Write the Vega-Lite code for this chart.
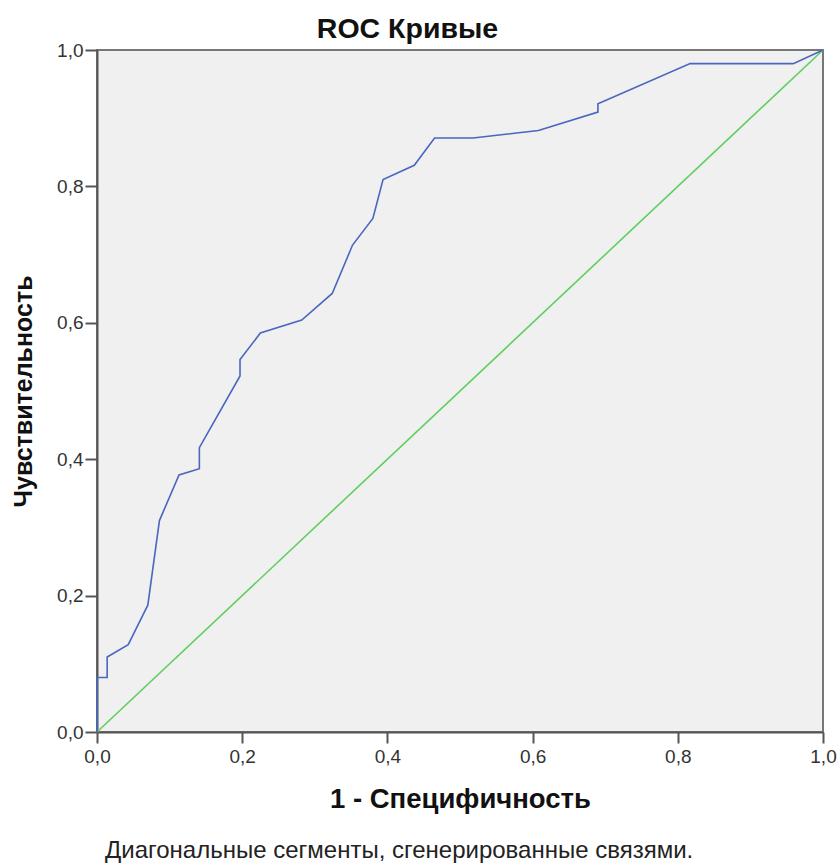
{
  "$schema": "https://vega.github.io/schema/vega-lite/v6.json",
  "autosize": {"type": "none"},
  "width": 726,
  "height": 682,
  "padding": {"left": 97, "top": 50, "right": 15, "bottom": 134},
  "background": "white",
  "config": {
    "view": {"fill": "#f0f0f0", "stroke": "#777777", "strokeWidth": 2},
    "font": "Liberation Sans"
  },
  "title": {
    "text": "Диагональные сегменты, сгенерированные связями.",
    "orient": "bottom",
    "anchor": "start",
    "frame": "group",
    "dx": 8,
    "offset": 26,
    "fontSize": 24,
    "fontWeight": "normal",
    "color": "#222222",
    "font": "Liberation Sans"
  },
  "datasets": {
    "roc": [
      {"i": 0, "fpr": 0.0, "tpr": 0.0},
      {"i": 1, "fpr": 0.0, "tpr": 0.08},
      {"i": 2, "fpr": 0.014, "tpr": 0.08},
      {"i": 3, "fpr": 0.014, "tpr": 0.11},
      {"i": 4, "fpr": 0.043, "tpr": 0.128},
      {"i": 5, "fpr": 0.07, "tpr": 0.186},
      {"i": 6, "fpr": 0.086, "tpr": 0.31},
      {"i": 7, "fpr": 0.113, "tpr": 0.377},
      {"i": 8, "fpr": 0.141, "tpr": 0.386},
      {"i": 9, "fpr": 0.141, "tpr": 0.417},
      {"i": 10, "fpr": 0.197, "tpr": 0.522},
      {"i": 11, "fpr": 0.197, "tpr": 0.546},
      {"i": 12, "fpr": 0.225, "tpr": 0.585},
      {"i": 13, "fpr": 0.282, "tpr": 0.604},
      {"i": 14, "fpr": 0.324, "tpr": 0.643},
      {"i": 15, "fpr": 0.352, "tpr": 0.714},
      {"i": 16, "fpr": 0.38, "tpr": 0.753},
      {"i": 17, "fpr": 0.394, "tpr": 0.81},
      {"i": 18, "fpr": 0.437, "tpr": 0.831},
      {"i": 19, "fpr": 0.465, "tpr": 0.871},
      {"i": 20, "fpr": 0.518, "tpr": 0.871},
      {"i": 21, "fpr": 0.608, "tpr": 0.882},
      {"i": 22, "fpr": 0.69, "tpr": 0.909},
      {"i": 23, "fpr": 0.69, "tpr": 0.921},
      {"i": 24, "fpr": 0.817, "tpr": 0.98},
      {"i": 25, "fpr": 0.959, "tpr": 0.98},
      {"i": 26, "fpr": 1.0, "tpr": 1.0}
    ],
    "diag": [
      {"i": 0, "fpr": 0.0, "tpr": 0.0},
      {"i": 1, "fpr": 1.0, "tpr": 1.0}
    ]
  },
  "resolve": {"axis": {"x": "independent"}},
  "layer": [
    {
      "data": {"name": "diag"},
      "mark": {"type": "line", "color": "#5fcf5f", "strokeWidth": 1.6, "clip": false},
      "encoding": {
        "x": {
          "field": "fpr", "type": "quantitative",
          "scale": {"domain": [0, 1], "nice": false, "zero": false},
          "axis": {
            "orient": "bottom",
            "values": [0, 0.2, 0.4, 0.6, 0.8, 1.0],
            "labelExpr": "replace(format(datum.value, '.1f'), '.', ',')",
            "title": "1 - Специфичность",
            "titleFontSize": 27.5,
            "titleFontWeight": "bold",
            "titleColor": "#111111",
            "titlePadding": 19,
            "labelFontSize": 19,
            "labelColor": "#333333",
            "labelPadding": 4,
            "labelFlush": false,
            "labelOverlap": false,
            "tickSize": 11,
            "tickColor": "#555555",
            "tickWidth": 2,
            "domainColor": "#555555",
            "domainWidth": 2,
            "grid": false
          }
        },
        "y": {
          "field": "tpr", "type": "quantitative",
          "scale": {"domain": [0, 1], "nice": false, "zero": false},
          "axis": {
            "values": [0, 0.2, 0.4, 0.6, 0.8, 1.0],
            "labelExpr": "replace(format(datum.value, '.1f'), '.', ',')",
            "title": "Чувствительность",
            "titleFontSize": 25,
            "titleFontWeight": "bold",
            "titleColor": "#111111",
            "titlePadding": 20,
            "labelFontSize": 19,
            "labelColor": "#333333",
            "labelPadding": 2,
            "labelFlush": false,
            "labelOverlap": false,
            "tickSize": 12,
            "tickColor": "#555555",
            "tickWidth": 2,
            "domainColor": "#555555",
            "domainWidth": 2,
            "grid": false
          }
        },
        "order": {"field": "i", "type": "quantitative"}
      }
    },
    {
      "data": {"name": "roc"},
      "mark": {"type": "line", "color": "#4a66bf", "strokeWidth": 1.6, "clip": false},
      "encoding": {
        "x": {
          "field": "fpr", "type": "quantitative",
          "scale": {"domain": [0, 1], "nice": false, "zero": false},
          "axis": {
            "orient": "top",
            "labels": false,
            "ticks": false,
            "domain": false,
            "grid": false,
            "title": "ROC Кривые",
            "titleFontSize": 28.5,
            "titleFontWeight": "bold",
            "titleColor": "#111111",
            "titleX": 310,
            "titleAlign": "center",
            "titlePadding": 7
          }
        },
        "y": {"field": "tpr", "type": "quantitative"},
        "order": {"field": "i", "type": "quantitative"}
      }
    }
  ]
}
